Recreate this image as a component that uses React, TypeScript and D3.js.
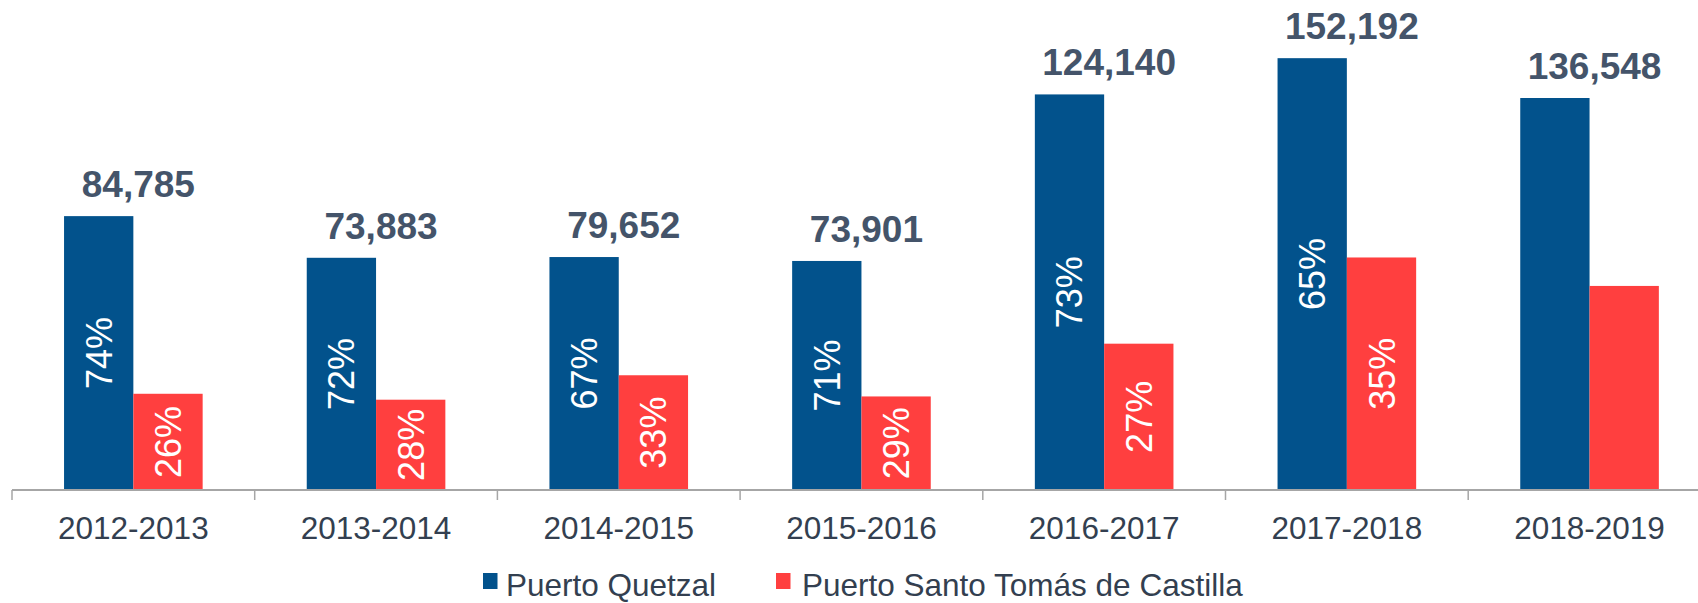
import React from "react";
import * as d3 from "d3";

const categories = ["2012-2013", "2013-2014", "2014-2015", "2015-2016", "2016-2017", "2017-2018", "2018-2019"];
const seriesNames = ["Puerto Quetzal", "Puerto Santo Tomás de Castilla"];
const quetzal = [62741, 53196, 53367, 52470, 90622, 98925, 89800];
const santoTomas = [22044, 20687, 26285, 21431, 33518, 53267, 46748];
const totalLabels = ["84,785", "73,883", "79,652", "73,901", "124,140", "152,192", "136,548"];
const quetzalPct = ["74%", "72%", "67%", "71%", "73%", "65%", ""];
const santoPct = ["26%", "28%", "33%", "29%", "27%", "35%", ""];

const W = 1698;
const H = 603;
const BLUE = "#02528C";
const RED = "#FF3F3F";
const FONT = "'Liberation Sans', Arial, Helvetica, sans-serif";

export default function App() {
  const baseY = 490;
  const x0 = d3.scaleBand<string>().domain(categories).range([12, 12 + 7 * 242.7]).padding(0);
  const x1 = d3.scaleBand<string>().domain(seriesNames).range([0, x0.bandwidth()]).paddingInner(0).paddingOuter(0.751);
  const y = d3.scaleLinear().domain([0, 112000]).range([baseY, 1.1]);
  const seriesVals = [quetzal, santoTomas];
  const seriesPct = [quetzalPct, santoPct];
  const colors = [BLUE, RED];
  const bw = x1.bandwidth();

  return (
    <svg width={W} height={H} style={{ position: "absolute", left: 0, top: 0, display: "block", background: "#fff" }} fontFamily={FONT}>
      {categories.map((c, i) => (
        <g key={c}>
          {seriesNames.map((s, si) => {
            const v = seriesVals[si][i];
            const bx = (x0(c) as number) + (x1(s) as number);
            const top = y(v);
            const cx = bx + bw / 2;
            const cy = (top + baseY) / 2;
            return (
              <g key={s}>
                <rect x={bx} y={top} width={bw} height={baseY - top} fill={colors[si]} />
                {seriesPct[si][i] && (
                  <text
                    transform={`translate(${cx + 13},${cy}) rotate(-90)`}
                    textAnchor="middle"
                    fill="#fff"
                    fontSize={36}
                  >
                    {seriesPct[si][i]}
                  </text>
                )}
              </g>
            );
          })}
          <text
            x={(x0(c) as number) + x0.bandwidth() / 2 + 5}
            y={y(quetzal[i]) - 19}
            textAnchor="middle"
            fill="#44546A"
            fontSize={37}
            fontWeight="bold"
          >
            {totalLabels[i]}
          </text>
          <line x1={x0(c)} x2={x0(c)} y1={baseY} y2={baseY + 10} stroke="#A6A6A6" strokeWidth={1.5} />
          <text
            x={(x0(c) as number) + x0.bandwidth() / 2}
            y={539}
            textAnchor="middle"
            fill="#333F50"
            fontSize={31.5}
          >
            {c}
          </text>
        </g>
      ))}
      <line x1={12} x2={W} y1={baseY} y2={baseY} stroke="#A6A6A6" strokeWidth={2} />
      <g>
        <rect x={483} y={573} width={14.5} height={16} fill={BLUE} />
        <text x={506} y={596} fill="#333F50" fontSize={31.5}>{seriesNames[0]}</text>
        <rect x={776} y={573} width={14.5} height={16} fill={RED} />
        <text x={802} y={596} fill="#333F50" fontSize={31.5}>{seriesNames[1]}</text>
      </g>
    </svg>
  );
}
